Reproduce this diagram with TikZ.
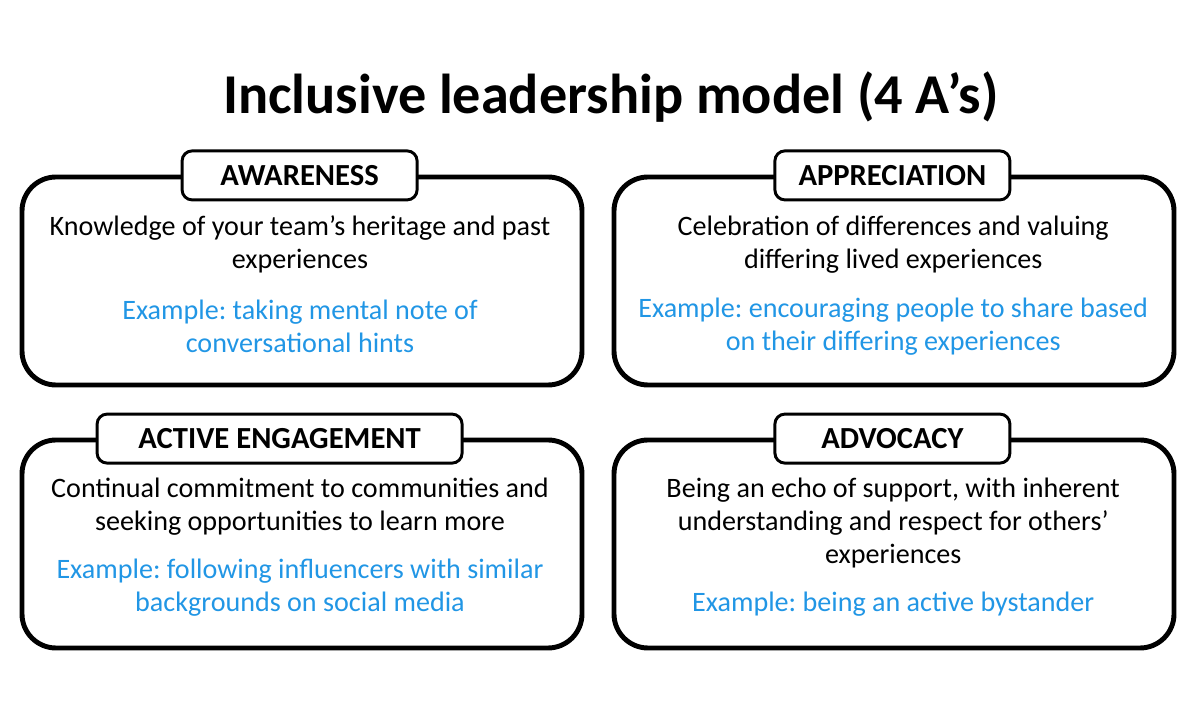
\documentclass[tikz,border=0pt]{standalone}
\usepackage{fontspec}
\setmainfont{Carlito}
\usepackage{tikz}
\frenchspacing
\definecolor{exblue}{RGB}{33,150,229}
\tikzstyle{panel}=[draw,line width=3.5pt,rounded corners=0.85cm,minimum width=14cm,minimum height=5.2cm]
\tikzstyle{tag}=[draw,fill=white,line width=2.1pt,rounded corners=0.25cm,minimum height=1.225cm,font=\fontsize{21.8}{24}\selectfont\bfseries]
\tikzstyle{body}=[align=center,font=\fontsize{20}{23.5}\selectfont]
\tikzstyle{example}=[align=center,text=exblue,font=\fontsize{20}{23.5}\selectfont]

\begin{document}
\begin{tikzpicture}
\useasboundingbox (0,0) rectangle (30,18.075);
\node[font=\fontsize{40}{48}\selectfont\bfseries] (title) at (15.27,15.65) {Inclusive leadership model (4 A’s)};
% four panels
\node[panel] (aware) at (7.55,11.05) {};
\node[panel] (apprec) at (22.35,11.05) {};
\node[panel] (engage) at (7.55,4.475) {};
\node[panel] (advoc) at (22.35,4.475) {};
% headings
\node[tag,minimum width=5.875cm] (awaretag) at (7.49,13.69) {AWARENESS};
\node[tag,minimum width=5.875cm] (apprectag) at (22.31,13.69) {APPRECIATION};
\node[tag,minimum width=9.125cm] (engagetag) at (6.99,7.11) {ACTIVE ENGAGEMENT};
\node[tag,minimum width=5.875cm] (advoctag) at (22.31,7.11) {ADVOCACY};
% texts
\node[body] (awaretxt) at (7.5,11.97) {Knowledge of your team’s heritage and past\\experiences};
\node[example] (awareex) at (7.5,9.92) {Example: taking mental note of\\conversational hints};
\node[body] (apprectxt) at (22.33,11.97) {Celebration of differences and valuing\\differing lived experiences};
\node[example] (apprecex) at (22.33,9.92) {Example: encouraging people to share based\\on their differing experiences};
\node[body] (engagetxt) at (7.5,5.42) {Continual commitment to communities and\\seeking opportunities to learn more};
\node[example] (engageex) at (7.5,3.39) {Example: following influencers with similar\\backgrounds on social media};
\node[body] (advoctxt) at (22.33,5.0) {Being an echo of support, with inherent\\understanding and respect for others’\\experiences};
\node[example] (advocex) at (22.33,2.98) {Example: being an active bystander};
\end{tikzpicture}
\end{document}
